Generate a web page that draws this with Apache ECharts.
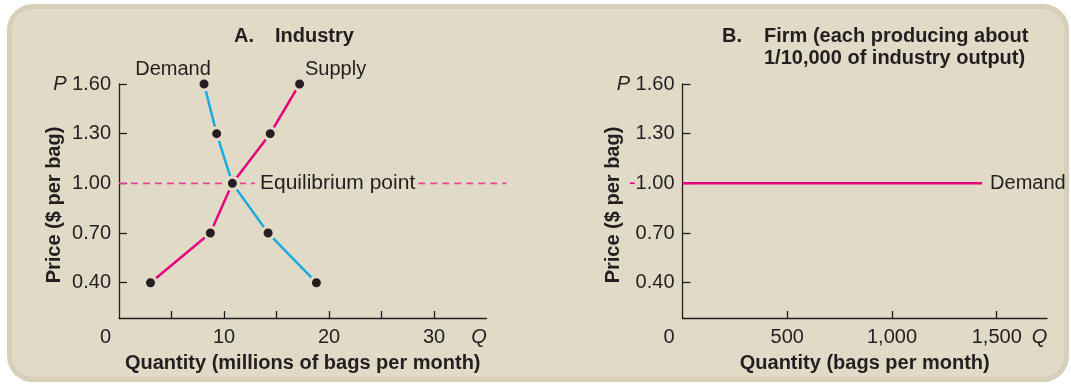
<!DOCTYPE html>
<html><head><meta charset="utf-8">
<script src="https://cdn.jsdelivr.net/npm/echarts@6/dist/echarts.min.js"></script>
<style>
html,body{margin:0;padding:0;background:#fff;}
#wrap{position:relative;width:1071px;height:385px;overflow:hidden;}
#panel{position:absolute;left:7px;top:4px;width:1062px;height:378px;box-sizing:border-box;border:5px solid #d7d0b9;border-radius:26px;background:#e1dac7;}
#chart{position:absolute;left:0;top:0;width:1071px;height:385px;}
</style></head>
<body><div id="wrap"><div id="panel"></div><div id="chart"></div></div>
<script>
// ---- data ----
const priceTicks = [0.40, 0.70, 1.00, 1.30, 1.60];
const priceMin = 0.187, priceMax = 1.60;
const industryQtyMax = 35;
const industryQtyTicks = [5, 10, 15, 20, 25, 30];
const industryQtyLabels = [0, 10, 20, 30];
const firmQtyMax = 1740;
const firmQtyTicks = [500, 1000, 1500];
const firmQtyLabels = [0, 500, 1000, 1500];
const industryPrices = [1.60, 1.30, 1.00, 0.70, 0.40];
const demandQty = [8.1, 9.3, 10.8, 14.2, 18.8];
const supplyQty = [17.2, 14.4, 10.8, 8.7, 3.0];
const equilibriumPrice = 1.00;
const dashLeftQty = [0, 12.95];
const dashRightQty = [28.5, 36.9];
const dashAxisMax = 37;
const firmDemandQty = [0, 1430];
const firmDemandPrice = [1.00, 1.00];

// ---- style ----
const TXT = '#231f20';
const BG = '#e1dac7';
const FONT = "'Liberation Sans', Arial, Helvetica, sans-serif";
const PINK = '#e6007e';
const BLUE = '#1ba9e1';
const DASH = '#e9469a';

const chart = echarts.init(document.getElementById('chart'), null, {renderer: 'canvas'});
const lineStyleAxis = {color: TXT, width: 1.3};
const txt = (extra) => Object.assign({color: TXT, fontSize: 20, fontFamily: FONT}, extra || {});

function yAxis(gridIndex, nameGap, withDash) {
  return {
    type: 'value', gridIndex, min: priceMin, max: priceMax,
    name: 'Price ($ per bag)', nameLocation: 'middle', nameGap, nameRotate: 90,
    nameMoveOverlap: false,
    nameTextStyle: txt({fontWeight: 'bold', padding: [0, 8, 0, 0]}),
    axisLine: {show: true, onZero: false, lineStyle: lineStyleAxis},
    axisTick: {show: true, inside: true, length: 8, customValues: priceTicks, lineStyle: lineStyleAxis},
    axisLabel: Object.assign(txt(), {
      customValues: priceTicks, margin: 8, showMinLabel: true, showMaxLabel: true,
      formatter: v => {
        const s = v.toFixed(2);
        if (Math.abs(v - 1.6) < 1e-6) return '{p|P} ' + s;
        if (withDash && Math.abs(v - 1.0) < 1e-6) return '{d|-}' + s;
        return s;
      },
      rich: {p: txt({fontStyle: 'italic'}), d: txt({color: PINK})}
    }),
    splitLine: {show: false}
  };
}

function xAxis(gridIndex, max, ticks, labels, name, fmt) {
  return {
    type: 'value', gridIndex, min: 0, max,
    name, nameLocation: 'middle', nameGap: 35,
    nameMoveOverlap: false,
    nameTextStyle: txt({fontWeight: 'bold'}),
    axisLine: {show: true, onZero: false, lineStyle: lineStyleAxis},
    axisTick: {show: true, inside: true, length: 7, customValues: ticks, lineStyle: lineStyleAxis},
    axisLabel: Object.assign(txt(), {
      customValues: labels.concat([max]), margin: 9, showMinLabel: true, showMaxLabel: true,
      formatter: v => v === 0 ? '{z|0}' : (v === max ? '{q|Q}' : fmt(v)),
      rich: {z: txt({padding: [0, 27, 0, 0]}), q: txt({fontStyle: 'italic', padding: [0, 15, 0, 0]})}
    }),
    splitLine: {show: false}
  };
}

const zip = (xs, ys) => xs.map((x, i) => [x, ys[i]]);
const dotStyle = {color: TXT, borderColor: BG, borderWidth: 3};

const demandData = zip(demandQty, industryPrices);
demandData[0] = {value: demandData[0], label: {show: true, position: 'top', distance: 1, offset: [-31, 4], formatter: 'Demand', ...txt()}};
const supplyData = zip(supplyQty, industryPrices);
supplyData[0] = {value: supplyData[0], label: {show: true, position: 'top', distance: 1, offset: [36, 4], formatter: 'Supply', ...txt()}};

const gridA = {left: 119, top: 84, width: 367.5, height: 234};
const option = {
  animation: false,
  backgroundColor: 'transparent',
  textStyle: {fontFamily: FONT},
  title: [
    {text: 'A.', left: 234, top: 25, padding: 0, textStyle: txt({fontWeight: 'bold', lineHeight: 22})},
    {text: 'Industry', left: 275, top: 25, padding: 0, textStyle: txt({fontWeight: 'bold', lineHeight: 22})},
    {text: 'B.', left: 722, top: 25, padding: 0, textStyle: txt({fontWeight: 'bold', lineHeight: 22})},
    {text: 'Firm (each producing about\n1/10,000 of industry output)', left: 764, top: 25, padding: 0, textStyle: txt({fontWeight: 'bold', lineHeight: 22})}
  ],
  grid: [
    gridA,
    {left: 682.5, top: 84, width: 364.5, height: 234},
    // same scale as grid A, extended to the right so the dashed guide can run past the axis end
    {left: gridA.left, top: gridA.top, width: gridA.width * dashAxisMax / industryQtyMax, height: gridA.height}
  ],
  xAxis: [
    xAxis(0, industryQtyMax, industryQtyTicks, industryQtyLabels, 'Quantity (millions of bags per month)', v => String(v)),
    xAxis(1, firmQtyMax, firmQtyTicks, firmQtyLabels, 'Quantity (bags per month)', v => v.toLocaleString('en-US')),
    {type: 'value', gridIndex: 2, min: 0, max: dashAxisMax, show: false}
  ],
  yAxis: [yAxis(0, 55, false), yAxis(1, 59, true),
    {type: 'value', gridIndex: 2, min: priceMin, max: priceMax, show: false}],
  series: [
    {type: 'line', xAxisIndex: 0, yAxisIndex: 0, symbol: 'none', silent: true,
     data: dashLeftQty.map(q => [q, equilibriumPrice]),
     lineStyle: {color: DASH, width: 1.8, type: [7, 5]},
     endLabel: {show: true, formatter: 'Equilibrium point', distance: 5, ...txt({fontSize: 21})}},
    {type: 'line', xAxisIndex: 2, yAxisIndex: 2, symbol: 'none', silent: true, clip: false,
     data: dashRightQty.map(q => [q, equilibriumPrice]),
     lineStyle: {color: DASH, width: 1.8, type: [7, 5]}},
    {type: 'line', xAxisIndex: 0, yAxisIndex: 0, symbol: 'circle', symbolSize: 12, silent: true,
     data: demandData, lineStyle: {color: BLUE, width: 2.5}, itemStyle: dotStyle},
    {type: 'line', xAxisIndex: 0, yAxisIndex: 0, symbol: 'circle', symbolSize: 12, silent: true,
     data: supplyData, lineStyle: {color: PINK, width: 2.5}, itemStyle: dotStyle},
    {type: 'line', xAxisIndex: 1, yAxisIndex: 1, symbol: 'none', silent: true,
     data: zip(firmDemandQty, firmDemandPrice),
     lineStyle: {color: PINK, width: 2.5},
     endLabel: {show: true, formatter: 'Demand', distance: 8, ...txt()}}
  ]
};
chart.setOption(option);
</script>
</body></html>
